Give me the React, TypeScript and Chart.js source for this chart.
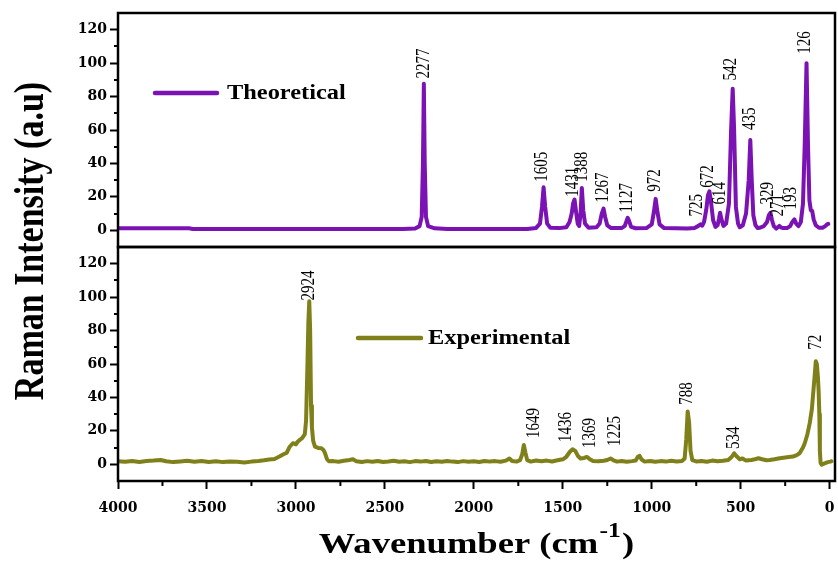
import React, { useEffect, useRef } from 'react';
import { Chart, registerables } from 'chart.js';

Chart.register(...registerables);

// ---------- Data ----------
const theoX = [
  4000, 3600, 3580, 2400, 2330, 2305, 2293, 2286, 2281, 2276, 2269, 2257, 2220, 2150,
  1700, 1650, 1628, 1617, 1608, 1599, 1588, 1570, 1520,
  1480, 1462, 1450, 1442, 1434, 1424, 1416, 1408, 1400, 1393, 1385, 1375, 1355,
  1310, 1293, 1281, 1271, 1262, 1250, 1228,
  1170, 1152, 1142, 1135, 1127, 1116, 1090,
  1030, 1000, 988, 978, 968, 956, 930,
  800, 760, 740, 726, 716,
  706, 694, 684, 676, 667, 655, 642,
  630, 622, 616, 609, 597,
  582, 566, 554, 545, 537, 527, 515, 505,
  488, 470, 455, 446, 438, 429, 417, 404, 392,
  370, 352, 342, 333, 324, 314, 300,
  290, 283, 275, 262, 240,
  222, 210, 198, 188, 175,
  162, 150, 140, 130, 122, 114, 106, 98, 90, 78, 60, 40, 25, 15, 8
];
const theoY = [
  1.2, 1.2, 0.8, 0.8, 1.1, 2.5, 8, 40, 87.6, 40, 8, 2.5, 1.2, 0.8,
  0.8, 1.4, 4, 14, 25.7, 14, 4, 1.5, 1.3,
  1.8, 5, 10, 16, 18.4, 10, 4, 2.6, 10, 25.3, 12, 4, 1.5,
  1.8, 4, 10, 13, 8, 3, 1.3,
  1.3, 2.5, 5.5, 7.5, 5.5, 2, 1.2,
  1.3, 3.5, 11, 18.8, 11, 3.5, 1.3,
  1, 1.4, 2.5, 3.6, 2.8,
  5, 12, 21, 23.3, 17, 6, 2,
  3, 7, 10.5, 7, 2.6,
  4, 16, 60, 84.7, 60, 14, 4, 1.8,
  3, 10, 30, 54, 30, 9, 3, 1.3, 1.5,
  2.5, 5, 9, 10.5, 6, 2.5, 1,
  2, 2.6, 1.8, 1.3, 1.3,
  2.5, 5, 6.5, 4, 2.5,
  5, 16, 52, 100, 52, 18, 12, 11.5, 6.5, 3, 1.5, 1.5, 2.5, 3.5, 3.8
];

const expX = [
  4000, 3960, 3920, 3880, 3840, 3800, 3760, 3730, 3690, 3650, 3610, 3570, 3530, 3490,
  3450, 3410, 3370, 3330, 3290, 3250, 3210, 3180, 3150, 3120, 3090, 3070, 3052, 3035,
  3017, 3000, 2990, 2978, 2965, 2950, 2943, 2936, 2930, 2925, 2920, 2915, 2910, 2903,
  2893, 2875, 2857, 2845, 2837, 2825, 2815, 2790, 2760, 2730, 2700, 2680, 2660, 2630,
  2600, 2570, 2540, 2510, 2480, 2450, 2420, 2390, 2360, 2330, 2300, 2270, 2240, 2210,
  2180, 2150, 2120, 2090, 2060, 2030, 2000, 1970, 1940, 1910, 1880, 1850, 1820, 1800,
  1785, 1760, 1740, 1728, 1719, 1710, 1700, 1680, 1650, 1620, 1590, 1560, 1530, 1500,
  1480, 1460, 1445, 1430, 1415, 1400, 1380, 1365, 1350, 1330, 1300, 1270, 1250, 1232,
  1215, 1195, 1170, 1140, 1110, 1090, 1078, 1068, 1058, 1040, 1010, 980, 950, 920,
  890, 860, 830, 815, 806, 798, 790, 782, 772, 750, 720, 690, 660, 630,
  600, 570, 550, 537, 525, 505, 490, 470, 440, 420, 400, 380, 355, 337,
  310, 281, 250, 207, 185, 169, 150, 140, 125, 112, 100, 94, 85, 78,
  72, 66, 62, 58, 55, 51, 45, 35, 22, 10, -3, -10
];
const expY = [
  1.8, 1.5, 2.0, 1.4, 1.9, 2.2, 2.6, 1.8, 1.3, 1.7, 2.1, 1.5, 1.9, 1.4,
  1.8, 1.3, 1.7, 1.5, 1.1, 1.6, 2.0, 2.4, 2.9, 3.2, 4.8, 6.0, 6.8, 10.5,
  12.6, 12.0, 13.5, 14.6, 15.6, 18, 26, 56, 85, 97.6, 80, 35, 22, 14,
  10.6, 9.8, 9.6, 8.5, 6.8, 3, 1.8, 1.9, 1.5, 2.1, 2.6, 3.0, 1.8, 1.4,
  1.9, 1.5, 2.0, 1.4, 1.7, 2.1, 1.5, 1.8, 1.3, 1.9, 1.6, 2.0, 1.4, 1.8,
  1.5, 2.0, 1.6, 1.3, 1.9, 1.5, 1.8, 1.4, 2.0, 1.6, 1.9, 1.5, 2.2, 3.5,
  2.0, 1.6, 2.5, 6, 11.6, 7, 2.5, 1.6, 2.3, 1.8, 2.2, 1.7, 2.4, 3.0,
  4.5, 7.5, 9, 8, 5, 3.5, 3.8, 4.4, 3.2, 2.0, 1.8, 2.1, 2.6, 3.5,
  2.4, 1.6, 2.0, 1.5, 1.9, 2.3, 4.5, 5.0, 3.0, 1.6, 2.0, 1.5, 1.9, 1.6,
  2.1, 1.7, 2.0, 3.5, 15, 31.6, 25, 8, 2.5, 1.7, 2.0, 1.5, 2.2, 1.8,
  2.1, 2.6, 4.5, 6.6, 5.0, 3.0, 3.5, 2.2, 2.6, 3.0, 3.6, 3.0, 2.4, 2.6,
  3.0, 3.6, 4.0, 4.6, 5.5, 6.6, 10, 12.6, 18, 24.6, 33, 40.6, 52, 61.6,
  60, 52, 44, 30, 8, 0.8, -0.2, 0.3, 0.8, 1.3, 1.6, 1.8
];

const theoPeakLabels = ['2277', '1605', '1431', '1388', '1267', '1127', '972', '725', '672', '614', '542', '435', '329', '271', '193', '126'];
const theoPeakPos = [2281, 1618, 1444, 1393, 1275, 1140, 983, 747, 685, 618, 551, 444, 348, 292, 219, 135];
const theoPeakLevel = [90.8, 29, 20, 29, 16.6, 10.7, 23, 8.3, 25.5, 15.4, 89.6, 60, 15.4, 8.3, 12.5, 105.6];

const expPeakLabels = ['2924', '1649', '1436', '1369', '1225', '788', '534', '72'];
const expPeakPos = [2925, 1659, 1483, 1348, 1208, 803, 534, 73];
const expPeakLevel = [98, 15.8, 13.4, 9.8, 11, 35.6, 9.2, 68.6];

const xTickValues = [4000, 3500, 3000, 2500, 2000, 1500, 1000, 500, 0];
const xMinorTicks = [3750, 3250, 2750, 2250, 1750, 1250, 750, 250];
const yTickValues = [0, 20, 40, 60, 80, 100, 120];
const yMinorTicks = [10, 30, 50, 70, 90, 110];

const seriesNames = ['Theoretical', 'Experimental'];
const seriesColors = ['#7a12b4', '#80801a'];
const xTitle = 'Wavenumber (cm';
const xTitleSup = '-1';
const yTitle = 'Raman Intensity (a.u)';

// ---------- Styling ----------
const SERIF = '"Liberation Serif", "Times New Roman", serif';
const TICK_FONT = { family: '"DejaVu Serif", serif', weight: 'bold' as const, size: 14 };
const STRETCH = 1.22;

const decorPlugin = {
  id: 'decor',
  afterDraw(chart: any) {
    const ctx: CanvasRenderingContext2D = chart.ctx;
    const { left, right } = chart.chartArea;
    const xs = chart.scales.x;
    const yt = chart.scales.yTop;
    const yb = chart.scales.yBot;
    ctx.save();

    // frames
    ctx.strokeStyle = '#000';
    ctx.lineWidth = 2.5;
    for (const s of [yt, yb]) {
      ctx.strokeRect(left, s.top, right - left, s.bottom - s.top);
    }

    // minor ticks
    ctx.lineWidth = 2;
    ctx.beginPath();
    for (const s of [yt, yb]) {
      for (const v of yMinorTicks) {
        const py = Math.round(s.getPixelForValue(v));
        ctx.moveTo(left, py);
        ctx.lineTo(left - 4, py);
      }
    }
    for (const v of xMinorTicks) {
      const px = xs.getPixelForValue(v);
      ctx.moveTo(px, yb.bottom);
      ctx.lineTo(px, yb.bottom + 5);
    }
    ctx.stroke();

    // peak labels
    ctx.fillStyle = '#000';
    ctx.font = '15px ' + SERIF;
    const drawPeakLabels = (labels: string[], pos: number[], lvl: number[], s: any) => {
      labels.forEach((t, i) => {
        const px = xs.getPixelForValue(pos[i]);
        const py = s.getPixelForValue(lvl[i]);
        ctx.save();
        ctx.translate(px, py);
        ctx.rotate(-Math.PI / 2);
        ctx.scale(1, STRETCH);
        ctx.textAlign = 'left';
        ctx.textBaseline = 'middle';
        ctx.fillText(t, 0, 0);
        ctx.restore();
      });
    };
    drawPeakLabels(theoPeakLabels, theoPeakPos, theoPeakLevel, yt);
    drawPeakLabels(expPeakLabels, expPeakPos, expPeakLevel, yb);

    // legends inside panels
    const drawLegend = (idx: number, x0: number, x1: number, y: number, gap: number) => {
      ctx.save();
      ctx.strokeStyle = seriesColors[idx];
      ctx.lineWidth = 4.5;
      ctx.lineCap = 'round';
      ctx.beginPath();
      ctx.moveTo(x0, y);
      ctx.lineTo(x1, y);
      ctx.stroke();
      ctx.translate(x1 + gap, y);
      ctx.scale(STRETCH, 1);
      ctx.fillStyle = '#000';
      ctx.font = 'bold 20px ' + SERIF;
      ctx.textAlign = 'left';
      ctx.textBaseline = 'middle';
      ctx.fillText(seriesNames[idx], 0, 1);
      ctx.restore();
    };
    drawLegend(0, left + 37, left + 99, yt.top + 80, 10);
    drawLegend(1, left + 240, left + 303, yb.top + 91, 7);

    // y title
    ctx.save();
    ctx.translate(43, (yt.top + yb.bottom) / 2 - 6);
    ctx.rotate(-Math.PI / 2);
    ctx.scale(1, STRETCH);
    ctx.font = 'bold 34px ' + SERIF;
    ctx.textAlign = 'center';
    ctx.textBaseline = 'alphabetic';
    ctx.fillStyle = '#000';
    ctx.fillText(yTitle, 0, 0);
    ctx.restore();

    // x title with superscript
    ctx.save();
    ctx.fillStyle = '#000';
    ctx.textBaseline = 'alphabetic';
    ctx.textAlign = 'left';
    ctx.font = 'bold 30px ' + SERIF;
    const w1 = ctx.measureText(xTitle).width;
    const w3 = ctx.measureText(')').width;
    ctx.font = 'bold 21px ' + SERIF;
    const w2 = ctx.measureText(xTitleSup).width;
    const total = (w1 + w2 + w3 + 2) * STRETCH;
    const cx = (left + right) / 2;
    ctx.translate(cx - total / 2, 553);
    ctx.scale(STRETCH, 1);
    ctx.font = 'bold 30px ' + SERIF;
    ctx.fillText(xTitle, 0, 0);
    ctx.font = 'bold 21px ' + SERIF;
    ctx.fillText(xTitleSup, w1 + 1, -16);
    ctx.font = 'bold 30px ' + SERIF;
    ctx.fillText(')', w1 + w2 + 2, 0);
    ctx.restore();

    ctx.restore();
  },
};

const yScale = (weight: number) => ({
  type: 'linear' as const,
  position: 'left' as const,
  stack: 'panels',
  stackWeight: 1,
  weight,
  min: -10,
  max: 130,
  afterBuildTicks: (s: any) => {
    s.ticks = yTickValues.map((v) => ({ value: v }));
  },
  afterFit: (s: any) => {
    s.width = 60;
    s.paddingTop = 0;
    s.paddingBottom = 0;
  },
  ticks: {
    color: '#000',
    font: TICK_FONT,
    padding: 3,
    callback: (v: any) => String(v),
  },
  grid: {
    drawOnChartArea: false,
    drawTicks: true,
    tickLength: 8,
    tickWidth: 2,
    tickColor: '#000',
  },
  border: { display: false },
});

export default function App() {
  const ref = useRef<HTMLCanvasElement | null>(null);

  useEffect(() => {
    if (!ref.current) return;
    const chart = new Chart(ref.current, {
      type: 'line',
      data: {
        datasets: [
          {
            label: seriesNames[0],
            data: theoX.map((x, i) => ({ x, y: theoY[i] })),
            borderColor: seriesColors[0],
            backgroundColor: seriesColors[0],
            borderWidth: 4,
            pointRadius: 0,
            tension: 0,
            borderJoinStyle: 'round',
            borderCapStyle: 'round',
            xAxisID: 'x',
            yAxisID: 'yTop',
          },
          {
            label: seriesNames[1],
            data: expX.map((x, i) => ({ x, y: expY[i] })),
            borderColor: seriesColors[1],
            backgroundColor: seriesColors[1],
            borderWidth: 4,
            pointRadius: 0,
            tension: 0,
            borderJoinStyle: 'round',
            borderCapStyle: 'round',
            xAxisID: 'x',
            yAxisID: 'yBot',
          },
        ],
      },
      options: {
        responsive: false,
        maintainAspectRatio: false,
        devicePixelRatio: 1,
        animation: false,
        events: [],
        layout: { padding: { left: 58, right: 3, top: 13, bottom: 49 } },
        plugins: {
          legend: { display: false },
          tooltip: { enabled: false },
        },
        scales: {
          x: {
            type: 'linear',
            position: 'bottom',
            reverse: true,
            min: -30,
            max: 4000,
            afterBuildTicks: (s: any) => {
              s.ticks = xTickValues.map((v) => ({ value: v }));
            },
            afterFit: (s: any) => {
              s.height = 32;
              s.paddingLeft = 0;
              s.paddingRight = 0;
            },
            ticks: {
              color: '#000',
              font: TICK_FONT,
              padding: 11,
              maxRotation: 0,
              autoSkip: false,
              callback: (v: any) => String(v),
            },
            grid: {
              drawOnChartArea: false,
              drawTicks: true,
              tickLength: 8,
              tickWidth: 2,
              tickColor: '#000',
            },
            border: { display: false },
          },
          yBot: yScale(1),
          yTop: yScale(2),
        } as any,
      },
      plugins: [decorPlugin],
    } as any);
    return () => chart.destroy();
  }, []);

  return (
    <div style={{ position: 'absolute', left: 0, top: 0, width: 838, height: 562, background: '#fff' }}>
      <canvas ref={ref} width={838} height={562} />
    </div>
  );
}
